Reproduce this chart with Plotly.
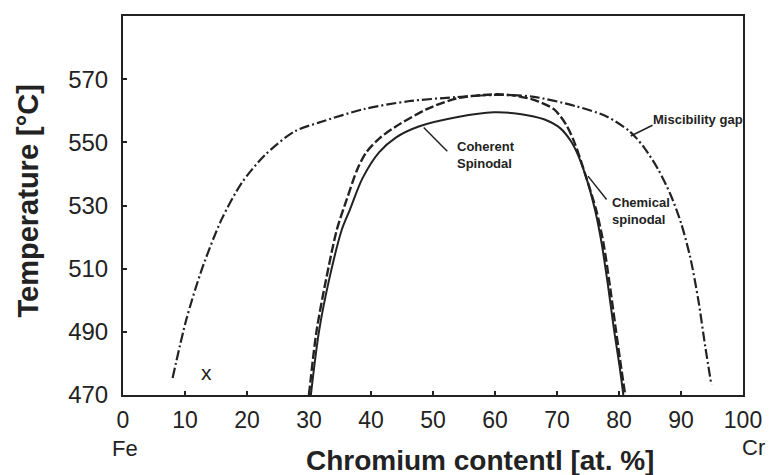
import plotly.graph_objects as go

# --- data ---
misc_x = [8.0, 10.2, 12.7, 15.9, 19.1, 22.9, 27.7, 32.0, 38.8, 46.0, 53.6, 60.0, 66.0, 73.1, 78.0, 81.7, 84.0, 86.3, 88.3, 90.0, 91.5, 92.8, 93.9, 94.9]
misc_T = [475.4, 493.8, 509.7, 525.6, 537.0, 546.0, 553.5, 556.5, 560.5, 563.0, 564.3, 565.0, 564.5, 561.4, 558.2, 553.5, 548.5, 541.5, 533.5, 524.5, 513.5, 500.0, 485.5, 473.2]

chem_x = [30.0, 31.2, 32.8, 34.5, 36.1, 37.8, 39.3, 41.5, 44.0, 49.0, 54.0, 60.0, 63.1, 66.5, 69.5, 71.5, 72.9, 74.7, 76.4, 77.5, 78.5, 79.5, 80.4, 81.0]
chem_T = [470.0, 490.0, 507.0, 522.4, 532.0, 541.5, 547.0, 551.5, 555.0, 560.5, 564.0, 565.2, 564.8, 563.3, 560.5, 555.5, 549.5, 539.0, 528.0, 518.0, 505.0, 490.6, 478.0, 470.0]

coh_x = [30.3, 31.6, 33.3, 35.3, 36.6, 38.6, 41.3, 44.0, 47.7, 54.0, 59.8, 64.0, 67.9, 70.5, 72.2, 73.5, 75.0, 76.2, 77.2, 78.2, 79.2, 80.1, 80.7]
coh_T = [470.0, 490.0, 507.0, 522.4, 528.7, 538.5, 546.8, 551.5, 555.0, 558.0, 559.5, 559.0, 557.3, 554.5, 550.5, 545.5, 537.0, 528.0, 518.0, 505.0, 490.6, 479.0, 470.0]

x_ticks = [0, 10, 20, 30, 40, 50, 60, 70, 80, 90, 100]
y_ticks = [470, 490, 510, 530, 550, 570]

labels = ["Miscibility gap", "Coherent<br>Spinodal", "Chemical<br>spinodal"]
label_x = [85.2, 53.6, 78.6]
label_T = [557.3, 546.0, 528.4]
leader_x0 = [85.4, 52.3, 78.0]
leader_T0 = [555.4, 547.2, 531.9]
leader_x1 = [81.9, 48.5, 75.0]
leader_T1 = [552.0, 554.7, 539.3]

FONT = "Liberation Sans, Arial, sans-serif"
INK = "#222"

fig = go.Figure()
fig.add_trace(go.Scatter(x=misc_x, y=misc_T, mode="lines", line=dict(color=INK, width=2.2, shape="spline", smoothing=0.8, dash="10px,3px,2px,3px"), showlegend=False))
fig.add_trace(go.Scatter(x=chem_x, y=chem_T, mode="lines", line=dict(color=INK, width=2.4, shape="spline", smoothing=0.8, dash="9px,3px"), showlegend=False))
fig.add_trace(go.Scatter(x=coh_x, y=coh_T, mode="lines", line=dict(color=INK, width=2.0, shape="spline", smoothing=0.8), showlegend=False))

# leader lines
for a, b, c, d in zip(leader_x0, leader_T0, leader_x1, leader_T1):
    fig.add_shape(type="line", x0=a, y0=b, x1=c, y1=d, line=dict(color=INK, width=1.5))

for t, lx, lt in zip(labels, label_x, label_T):
    fig.add_annotation(x=lx, y=lt, text="<b>" + t + "</b>", showarrow=False, xanchor="left", yanchor="middle",
                       align="left", font=dict(family=FONT, size=13, color=INK))

fig.add_annotation(x=13.4, y=477, text="x", showarrow=False, font=dict(family=FONT, size=21, color=INK))

# element labels and axis titles
fig.add_annotation(x=0, y=0, xref="x", yref="paper", text="Fe", showarrow=False, yanchor="middle",
                   yshift=-53, xshift=2, font=dict(family=FONT, size=22, color=INK))
fig.add_annotation(x=100, y=0, xref="x", yref="paper", text="Cr", showarrow=False, yanchor="middle",
                   yshift=-52, xshift=10, font=dict(family=FONT, size=22, color=INK))
fig.add_annotation(x=0.575, y=0, xref="paper", yref="paper", text="<b>Chromium contentl [at. %]</b>", showarrow=False,
                   yanchor="middle", yshift=-65, font=dict(family=FONT, size=28, color=INK))
fig.add_annotation(x=0, y=0.5106, xref="paper", yref="paper", text="<b>Temperature [°C]</b>", showarrow=False,
                   textangle=-90, xanchor="center", yanchor="middle", xshift=-95, font=dict(family=FONT, size=29, color=INK))

fig.update_xaxes(range=[0, 100], tickvals=x_ticks, ticks="inside", ticklen=4, tickwidth=2, tickcolor=INK,
                 showline=True, linecolor=INK, linewidth=2, mirror=True, showgrid=False, zeroline=False,
                 ticklabelstandoff=3, tickfont=dict(family=FONT, size=23, color=INK))
fig.update_yaxes(range=[470, 590], tickvals=y_ticks, ticks="inside", ticklen=4, tickwidth=2, tickcolor=INK,
                 showline=True, linecolor=INK, linewidth=2, mirror=True, showgrid=False, zeroline=False,
                 ticklabelstandoff=8, tickfont=dict(family=FONT, size=24, color=INK))

fig.update_layout(width=774, height=475, margin=dict(l=123, r=21, t=16, b=80),
                  plot_bgcolor="white", paper_bgcolor="white", showlegend=False)

fig.write_html("out.html")
